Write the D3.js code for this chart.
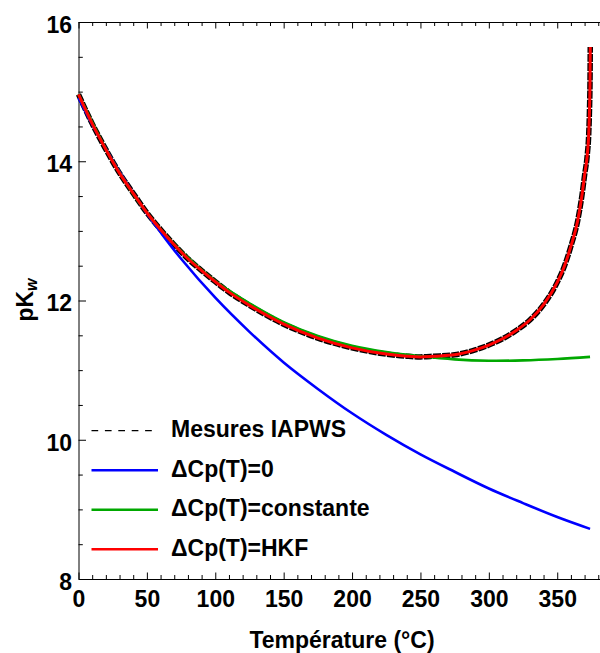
<!DOCTYPE html>
<html>
<head>
<meta charset="utf-8">
<script src="https://cdn.jsdelivr.net/npm/d3@7"></script>
<style>
  body { margin: 0; background: #fff; }
  svg text { font-family: "Liberation Sans", Arial, sans-serif; font-weight: bold; fill: #000; }
  .axis path, .axis line { stroke: #000; stroke-width: 1; }
</style>
</head>
<body>
<svg id="chart" width="600" height="653"></svg>
<script>
// temperatures (°C) and pKw values
const tempIAPWS = [0, 10, 20, 30, 40, 50, 60, 70, 80, 90, 100, 110, 125, 150, 175, 200, 225, 240, 250, 260, 275, 290, 300, 310, 320, 330, 340, 350, 355, 360, 365, 368, 370, 372, 373, 373.6, 374, 374.15];
const pkIAPWS = [14.96, 14.54, 14.17, 13.83, 13.54, 13.26, 13.02, 12.80, 12.60, 12.43, 12.27, 12.12, 11.93, 11.66, 11.46, 11.32, 11.23, 11.20, 11.19, 11.20, 11.22, 11.29, 11.36, 11.45, 11.57, 11.72, 11.94, 12.26, 12.48, 12.78, 13.15, 13.50, 13.80, 14.10, 14.38, 14.75, 15.20, 15.64];

const tempModel = [0, 10, 20, 25, 30, 40, 50, 60, 75, 100, 125, 150, 175, 200, 225, 250, 275, 300, 325, 350, 374];
const pkCp0 = [14.91, 14.53, 14.18, 14.01, 13.85, 13.54, 13.25, 12.98, 12.60, 12.04, 11.55, 11.11, 10.73, 10.38, 10.07, 9.79, 9.54, 9.30, 9.09, 8.89, 8.72];

const tempConst = [0, 25, 50, 75, 100, 125, 150, 175, 200, 225, 250, 275, 300, 325, 350, 374];
const pkCpConst = [14.96, 14.00, 13.26, 12.71, 12.28, 11.96, 11.69, 11.49, 11.35, 11.26, 11.20, 11.155, 11.135, 11.14, 11.16, 11.19];

// HKF curve lies on top of the IAPWS measurements
const tempHKF = tempIAPWS;
const pkHKF = pkIAPWS;

const xTicks = [0, 50, 100, 150, 200, 250, 300, 350];
const yTicks = [8, 10, 12, 14, 16];

const legendNames = ["Mesures IAPWS", "\u0394Cp(T)=0", "\u0394Cp(T)=constante", "\u0394Cp(T)=HKF"];
const legendColors = ["#000", "#0000ff", "#00a800", "#ff0000"];

const svg = d3.select("#chart");
const x = d3.scaleLinear().domain([0, 382]).range([78.5, 601]);
const y = d3.scaleLinear().domain([8, 16]).range([579, 22]);

const minorX = d3.range(0, 381, 10).filter(v => v % 50 !== 0);
const minorY = d3.range(8, 16.01, 0.5).filter(v => v % 2 !== 0);

// bottom axis
svg.append("g").attr("class", "axis")
  .attr("transform", `translate(0,${y(8)})`)
  .call(d3.axisBottom(x).tickValues(xTicks).tickSizeInner(-6.5).tickSizeOuter(0).tickPadding(12))
  .call(g => g.selectAll("text").style("font-size", "23px"));
svg.append("g").attr("class", "axis")
  .attr("transform", `translate(0,${y(8)})`)
  .call(d3.axisBottom(x).tickValues(minorX).tickSizeInner(-4).tickSizeOuter(0).tickFormat(""))
  .call(g => g.select(".domain").remove());

// top axis (mirror, no labels)
svg.append("g").attr("class", "axis")
  .attr("transform", `translate(0,${y(16)})`)
  .call(d3.axisTop(x).tickValues(xTicks).tickSizeInner(-6.5).tickSizeOuter(0).tickFormat(""));
svg.append("g").attr("class", "axis")
  .attr("transform", `translate(0,${y(16)})`)
  .call(d3.axisTop(x).tickValues(minorX).tickSizeInner(-4).tickSizeOuter(0).tickFormat(""))
  .call(g => g.select(".domain").remove());

// left axis
svg.append("g").attr("class", "axis")
  .attr("transform", `translate(${x(0)},0)`)
  .call(d3.axisLeft(y).tickValues(yTicks).tickSizeInner(-7.5).tickSizeOuter(0).tickPadding(6.5))
  .call(g => g.selectAll("text").style("font-size", "23px").attr("dy", "0.45em"));
svg.append("g").attr("class", "axis")
  .attr("transform", `translate(${x(0)},0)`)
  .call(d3.axisLeft(y).tickValues(minorY).tickSizeInner(-4.3).tickSizeOuter(0).tickFormat(""))
  .call(g => g.select(".domain").remove());

// curves
const line = d3.line()
  .x(d => x(d[0]))
  .y(d => y(d[1]))
  .curve(d3.curveMonotoneX);
const smooth = d3.line()
  .x(d => x(d[0]))
  .y(d => y(d[1]))
  .curve(d3.curveCatmullRom);

const zip = (a, b) => a.map((v, i) => [v, b[i]]);

svg.append("path")
  .attr("d", line(zip(tempIAPWS, pkIAPWS)))
  .attr("fill", "none").attr("stroke", "#000")
  .attr("stroke-width", 5.5).attr("stroke-dasharray", "8,1.2");

svg.append("path")
  .attr("d", smooth(zip(tempModel, pkCp0)))
  .attr("fill", "none").attr("stroke", legendColors[1]).attr("stroke-width", 2.6);

svg.append("path")
  .attr("d", smooth(zip(tempConst, pkCpConst)))
  .attr("fill", "none").attr("stroke", legendColors[2]).attr("stroke-width", 2.6);

svg.append("path")
  .attr("d", line(zip(tempHKF, pkHKF)))
  .attr("fill", "none").attr("stroke", legendColors[3]).attr("stroke-width", 3);

// legend
const legend = svg.append("g");
legendNames.forEach((name, i) => {
  const ly = 430.7 + i * 39.5;
  legend.append("line")
    .attr("x1", 91.5).attr("x2", 158).attr("y1", ly).attr("y2", ly)
    .attr("stroke", legendColors[i])
    .attr("stroke-width", i === 0 ? 1.2 : 2.6)
    .attr("stroke-dasharray", i === 0 ? "6.7,6.7" : null);
  legend.append("text")
    .attr("x", 171).attr("y", ly).attr("dy", "0.29em")
    .style("font-size", "23px")
    .text(name);
});

// axis titles
svg.append("text")
  .attr("x", 342).attr("y", 648)
  .attr("text-anchor", "middle")
  .style("font-size", "23px")
  .text("Température (°C)");

const yTitle = svg.append("text")
  .attr("transform", "translate(33,300) rotate(-90)")
  .attr("text-anchor", "middle")
  .style("font-size", "23px");
yTitle.append("tspan").text("pK");
yTitle.append("tspan").attr("dy", 4).style("font-size", "16px").style("font-style", "italic").text("w");
</script>
</body>
</html>
